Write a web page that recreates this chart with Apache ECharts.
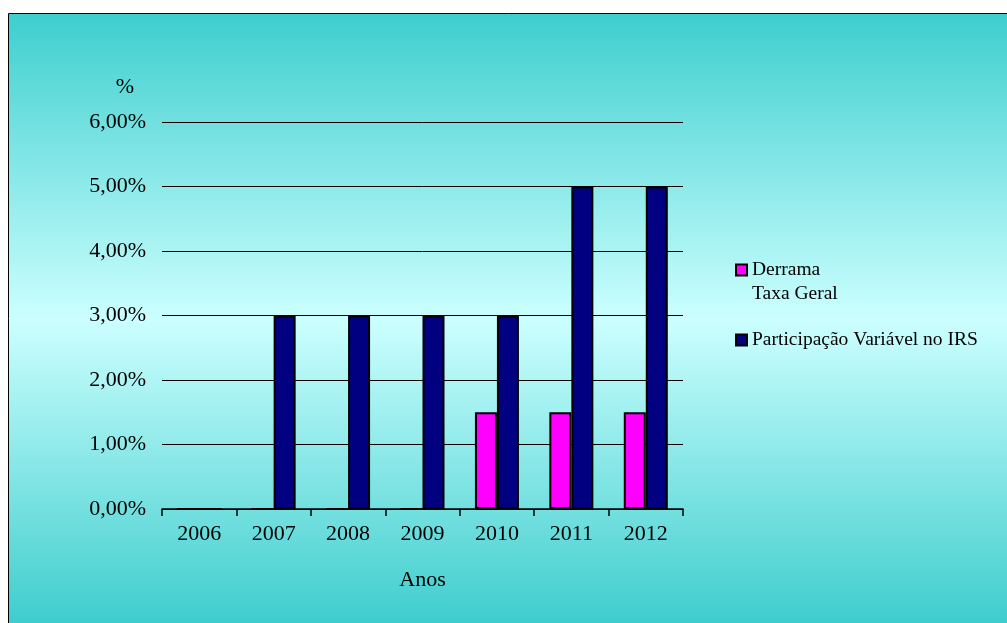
<!DOCTYPE html>
<html>
<head>
<meta charset="utf-8">
<script src="https://cdn.jsdelivr.net/npm/echarts@6/dist/echarts.min.js"></script>
<style>
html,body{margin:0;padding:0;background:#fff;}
#chart{width:1007px;height:623px;}
</style>
</head>
<body>
<div id="chart"></div>
<script>
var categories = ['2006','2007','2008','2009','2010','2011','2012'];
var derrama = [0, 0, 0, 0, 1.5, 1.5, 1.5];
var participacao = [0, 3, 3, 3, 3, 5, 5];
var seriesNames = ['Derrama Taxa Geral', 'Participação Variável no IRS'];

var FONT = 'Liberation Serif';
var chart = echarts.init(document.getElementById('chart'), null, {renderer:'canvas'});
chart.setOption({
  animation: false,
  textStyle: {fontFamily: FONT, color: '#000'},
  graphic: [{
    type: 'rect', z: -10, silent: true,
    shape: {x: 8.5, y: 13.5, width: 1000, height: 612},
    style: {
      stroke: '#000', lineWidth: 1,
      fill: new echarts.graphic.LinearGradient(0, 0, 0, 1, [
        {offset: 0, color: '#3ECECE'},
        {offset: 0.5, color: '#CCFFFF'},
        {offset: 1, color: '#3ECCCC'}
      ])
    }
  }],
  grid: {left: 162, right: 324, top: 122, bottom: 114, containLabel: false},
  legend: [{
    orient: 'vertical', left: 735, top: 234, padding: 0,
    itemWidth: 11, itemHeight: 11, icon: 'rect',
    data: [seriesNames[0]],
    formatter: function (n) { return ' \n' + n.replace(' Taxa', '\nTaxa'); },
    textStyle: {fontFamily: FONT, fontSize: 19.5, lineHeight: 24, color: '#000'}
  }, {
    orient: 'vertical', left: 735, top: 328, padding: 0,
    itemWidth: 11, itemHeight: 11, icon: 'rect',
    data: [seriesNames[1]],
    textStyle: {fontFamily: FONT, fontSize: 19.5, lineHeight: 24, color: '#000'}
  }],
  xAxis: {
    type: 'category', data: categories,
    name: 'Anos', nameLocation: 'middle', nameGap: 60,
    nameTextStyle: {fontFamily: FONT, fontSize: 22, color: '#000'},
    axisLine: {lineStyle: {color: '#000', width: 1.5}},
    axisTick: {show: true, length: 7, lineStyle: {color: '#000', width: 1.5}},
    axisLabel: {fontFamily: FONT, fontSize: 22, color: '#000', margin: 14}
  },
  yAxis: {
    type: 'value', min: 0, max: 6, interval: 1,
    name: '%', nameLocation: 'end', nameGap: 24,
    nameTextStyle: {fontFamily: FONT, fontSize: 22, color: '#000', align: 'center', padding: [0, 74, 0, 0]},
    axisLine: {show: false},
    axisTick: {show: false},
    axisLabel: {fontFamily: FONT, fontSize: 22, color: '#000', margin: 16,
      formatter: function (v) { return v.toFixed(2).replace('.', ',') + '%'; }},
    splitLine: {show: true, lineStyle: {color: '#000', width: 1}}
  },
  series: [{
    name: seriesNames[0], type: 'bar', data: derrama,
    barWidth: 22, barGap: '0%',
    itemStyle: {color: '#FF00FF', borderColor: '#000', borderWidth: 2}
  }, {
    name: seriesNames[1], type: 'bar', data: participacao,
    barWidth: 22, barGap: '0%',
    itemStyle: {color: '#000080', borderColor: '#000', borderWidth: 2}
  }]
});
</script>
</body>
</html>
